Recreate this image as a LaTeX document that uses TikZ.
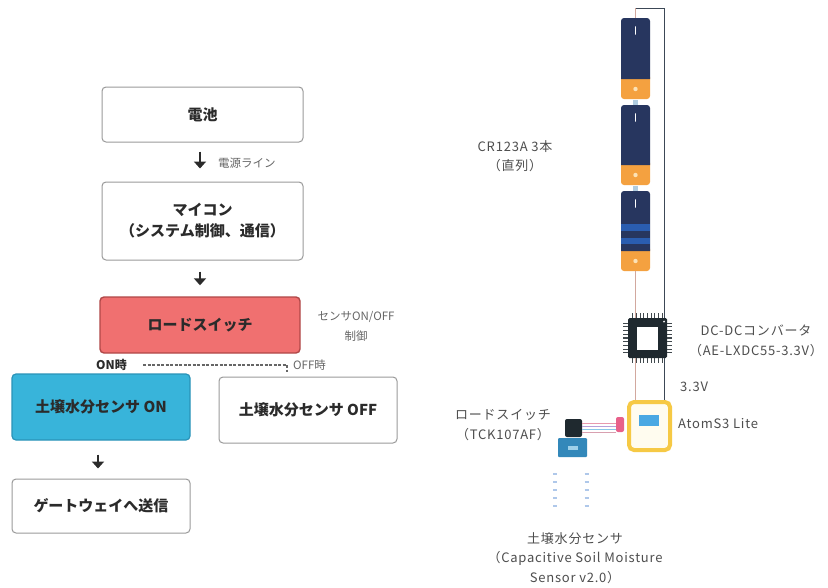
\documentclass[tikz,border=0pt]{standalone}
\usepackage{fontspec}
\setmainfont{Noto Sans CJK JP}
\newfontfamily\partfont{Noto Sans CJK JP}[LetterSpace=6]
\usetikzlibrary{arrows.meta,calc}

\definecolor{ink}{HTML}{2B2B2B}
\definecolor{boxline}{HTML}{9A9A9A}
\definecolor{switchred}{HTML}{F07070}
\definecolor{switchedge}{HTML}{B04848}
\definecolor{sensorblue}{HTML}{38B4DA}
\definecolor{sensoredge}{HTML}{2A93B8}
\definecolor{notegray}{HTML}{666666}
\definecolor{labelgray}{HTML}{4E4E4E}
\definecolor{cellnavy}{HTML}{27365F}
\definecolor{cellorange}{HTML}{F4A140}
\definecolor{celldot}{HTML}{FCE2B6}
\definecolor{cellstripe}{HTML}{2A5DB0}
\definecolor{nub}{HTML}{B0CCE0}
\definecolor{wiredark}{HTML}{3C4856}
\definecolor{wirepink}{HTML}{D2A89E}
\definecolor{chipbody}{HTML}{1F292F}
\definecolor{atomedge}{HTML}{F6C945}
\definecolor{atomface}{HTML}{FFFCEF}
\definecolor{atomscreen}{HTML}{4AA8E3}
\definecolor{grove}{HTML}{E8608A}
\definecolor{boardblue}{HTML}{3388BA}
\definecolor{boardlight}{HTML}{9DD0EA}
\definecolor{pinmark}{HTML}{AFC8EA}

\begin{document}
\begin{tikzpicture}[x=1pt,y=-1pt,
  flowbox/.style={draw=boxline, line width=1pt, rounded corners=4pt, fill=white,
    inner sep=0pt, align=center, text=ink,
    font=\fontsize{15}{21}\selectfont\bfseries},
  hotbox/.style={flowbox, fill=switchred, draw=switchedge, line width=1.4pt},
  onbox/.style={flowbox, fill=sensorblue, draw=sensoredge, line width=1.2pt},
  flowarrow/.style={draw=ink, line width=2.8pt, -{Triangle[length=7pt,width=12pt]}},
  note/.style={font=\fontsize{11.5}{20}\selectfont, text=notegray, inner sep=0pt, align=center},
  partlabel/.style={font=\partfont\fontsize{13}{19.5}\selectfont, text=labelgray,
    align=center, inner sep=0pt},
  chippin/.style={draw=chipbody!85, line width=1.1pt},
  busline/.style={line width=0.9pt}
]
\useasboundingbox (0,0) rectangle (828,587);
\fill[white] (0,0) rectangle (828,587);

% ---------------- flow chart ----------------
\node[flowbox, minimum width=201pt, minimum height=55pt] (bat) at (202.5,114.5) {電池};
\node[flowbox, minimum width=201pt, minimum height=78pt] (mcu) at (202.5,221) {マイコン\\（システム制御、通信）};
\node[hotbox,  minimum width=200pt, minimum height=56pt] (lsw) at (200,325) {ロードスイッチ};
\node[onbox,   minimum width=178pt, minimum height=66pt] (son) at (101,407) {土壌水分センサ ON};
\node[flowbox, minimum width=178pt, minimum height=66pt] (soff) at (308,410) {土壌水分センサ OFF};
\node[flowbox, minimum width=178pt, minimum height=54pt] (gw) at (101,506) {ゲートウェイへ送信};

\draw[flowarrow, shorten <=9pt, shorten >=13pt] (bat.south -| 200,0) -- (mcu.north -| 200,0);
\draw[flowarrow, shorten <=11pt, shorten >=11pt] (mcu.south -| 200,0) -- (lsw.north -| 200,0);
\draw[flowarrow, shorten <=14pt, shorten >=10pt] (son.south -| 98,0) -- (gw.north -| 98,0);

\node[note, anchor=west] (powerline) at (218,163) {電源ライン};
\node[note] (ctrl) at (356,326) {センサON/OFF\\制御};

\node[inner sep=0pt, text=ink, font=\fontsize{12}{14}\selectfont\bfseries] (onlbl) at (111.5,365) {ON時};
\node[note, anchor=west] (offlbl) at (293,365) {OFF時};
\coordinate (offturn) at (287,365);
\coordinate (offtick) at (287,372);
\draw[draw=notegray, line width=1.2pt, dash pattern=on 3pt off 1.5pt]
  ([xshift=16pt]onlbl.east) -- (offturn) -- (offtick);

% ---------------- hardware sketch ----------------
% three CR123A cells stacked in series
\foreach \t/\h in {18/81, 105/80, 191/80}{
  \fill[cellorange, rounded corners=3pt] (621,\t+\h-25) rectangle (650,\t+\h);
  \fill[cellnavy] (621,\t+\h-20) [rounded corners=3pt] -- (621,\t) -- (650,\t) [sharp corners] -- (650,\t+\h-20) -- cycle;
  \draw[white, line width=1.6pt, line cap=round] (635.5,\t+9) -- (635.5,\t+16);
  \fill[celldot] (635.5,\t+\h-10) circle (2.2pt);
}
\fill[cellstripe] (621,224) rectangle (650,231);
\fill[cellstripe] (621,238) rectangle (650,244);
\fill[nub] (633,100) rectangle (638,105);
\fill[nub] (633,186) rectangle (638,191);

\node[partlabel] (celllbl) at (515,156) {CR123A 3本\\（直列）};

\coordinate (celltop) at (635.5,18);
\coordinate (cellbot) at (635.5,271);
\coordinate (wtop) at (664,8);

% DC-DC converter module
\node[fill=chipbody, rounded corners=1.5pt, minimum width=39pt, minimum height=40pt, inner sep=0pt] (dcdc) at (647.5,338) {};
\foreach \k in {-4,...,4}{
  \draw[chippin] ([xshift={\k*3.7pt}]dcdc.north) -- ++(0,-4.5);
  \draw[chippin] ([xshift={\k*3.7pt}]dcdc.south) -- ++(0,4.5);
  \draw[chippin] ([yshift={\k*3.7pt}]dcdc.west) -- ++(-4.5,0);
  \draw[chippin] ([yshift={\k*3.7pt}]dcdc.east) -- ++(4.5,0);
}
\fill[white] (636.5,327) rectangle (658,350);
\fill[white!85!gray] (664,321.5) circle (1pt);
\node[partlabel] (dcdclbl) at (756,341) {DC-DCコンバータ\\（AE-LXDC55-3.3V）};

% AtomS3 Lite
\node[draw=atomedge, line width=4pt, fill=atomface, rounded corners=5pt,
      minimum width=41pt, minimum height=48pt, inner sep=0pt] (atom) at (649.5,426) {};
\fill[atomscreen] (638.5,415) rectangle (659,425.5);
\node[fill=grove, rounded corners=2pt, minimum width=8pt, minimum height=15pt, inner sep=0pt] (port) at (620,424.5) {};
\node[partlabel, anchor=west] (atomlbl) at (678,424) {AtomS3 Lite};
\node[partlabel, anchor=west] (vlbl) at (680,387) {3.3V};

% power wiring
\draw[busline, draw=wirepink] (celltop) -- (celltop |- wtop);
\draw[busline, draw=wiredark] (celltop |- wtop) -- (wtop) -- (wtop |- dcdc.north);
\draw[busline, draw=wirepink] (cellbot) -- (cellbot |- dcdc.north);
\draw[busline, draw=wirepink] (cellbot |- dcdc.south) -- (cellbot |- atom.north);
\draw[busline, draw=wiredark] (wtop |- dcdc.south) -- (wtop |- atom.north);

% load switch and soil sensor
\node[fill=chipbody, rounded corners=2pt, minimum width=17pt, minimum height=18pt, inner sep=0pt] (tck) at (573.5,428) {};
\foreach \dy/\c in {4.5/E89AAE, 1.5/B8A0D8, -1.5/88C8E8, -4.5/D8A0B0}{
  \definecolor{leadc}{HTML}{\c}
  \draw[leadc, line width=1pt] ([yshift=\dy pt]tck.east) -- ([yshift=\dy pt]tck.east -| port.west);
}
\node[fill=boardblue, rounded corners=1pt, minimum width=29pt, minimum height=19pt, inner sep=0pt] (soil) at (572.5,447.5) {};
\fill[boardlight] (567.5,445.5) rectangle (578,449.5);
\foreach \yy in {474,482,490,498,506}{
  \draw[pinmark, line width=1.3pt] (553,\yy) -- (557,\yy);
  \draw[pinmark, line width=1.3pt] (584.5,\yy) -- (588.5,\yy);
}
\node[partlabel] (tcklbl) at (503,425) {ロードスイッチ\\（TCK107AF）};
\node[partlabel] (soillbl) at (575,558) {土壌水分センサ\\（Capacitive Soil Moisture\\Sensor v2.0）};
\end{tikzpicture}
\end{document}
